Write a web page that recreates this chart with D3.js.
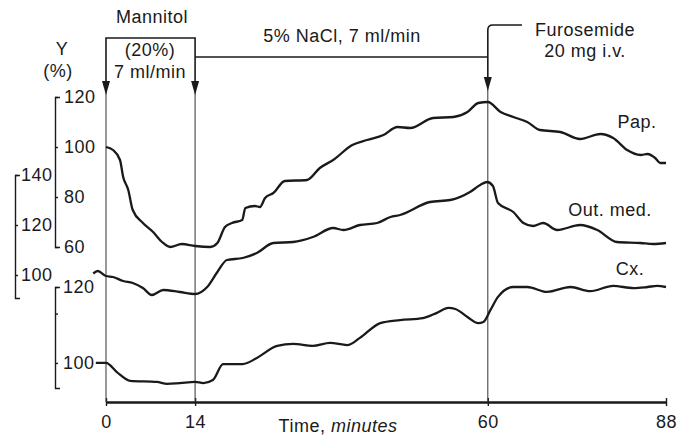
<!DOCTYPE html>
<html>
<head>
<meta charset="utf-8">
<script src="https://cdn.jsdelivr.net/npm/d3@7"></script>
<style>
body { margin: 0; background: #fff; }
svg { display: block; font-family: "Liberation Sans", Arial, sans-serif; }
text { fill: #1a1a1a; font-size: 18px; letter-spacing: 0.5px; }
</style>
</head>
<body>
<svg id="chart" width="685" height="439"></svg>
<script>
// traces: time in minutes, value in % of control
var papTime = [0, 1.1, 2.2, 2.7, 3.5, 4.2, 5.8, 7.4, 8.8, 10.1, 11.9, 14, 16.4, 17.5, 18.7, 19.8, 21.4, 21.9, 23.4, 24.2, 25, 26.3, 28.1, 31.6, 33.6, 35.7, 38.7, 41, 43.6, 45.8, 47.8, 51.4, 54.6, 56.8, 58.5, 60, 62, 64, 66.2, 68.2, 71.4, 74.5, 77.7, 79.7, 81.9, 84, 85.1, 86.3, 87.1, 88];
var papValues = [100, 98.8, 94.8, 88, 82.8, 74.8, 69.6, 66, 62, 60, 61.2, 60.4, 60, 61.6, 68, 69.6, 70.8, 75.6, 76.4, 76, 79.6, 81.6, 86.4, 86.8, 91.6, 94.8, 100.8, 102.8, 104.8, 108, 107.6, 111.6, 112, 114, 117.6, 118, 114, 112, 110, 106.8, 106, 103.2, 105.2, 103.6, 98.8, 96.8, 97.2, 95.6, 93.6, 93.6];

var medTime = [-2, -1.3, 0, 1.1, 2.7, 4.2, 5.8, 7.2, 9, 11.6, 14, 15.9, 17.5, 19, 21.5, 23.7, 26.3, 29.4, 32.5, 35.7, 37.3, 39.9, 42.6, 44.7, 46.2, 50.9, 54.1, 57.2, 58.8, 59.9, 60.8, 61.6, 64, 65.6, 67.1, 68.7, 70.9, 74.5, 77.2, 80.3, 84, 86, 88];
var medValues = [100.6, 101.6, 99.6, 99.2, 97.6, 96.8, 94.8, 92, 94, 93.2, 92.4, 95.2, 101.2, 106, 106.8, 108.8, 112.8, 113.2, 115.2, 118.8, 118, 120, 120.8, 123.2, 124, 129.2, 130, 133.2, 136, 137.2, 135.6, 128.8, 125.2, 120.8, 119.6, 120.8, 118, 120, 118, 113.2, 112.8, 112.4, 112.8];

var cxTime = [-1.6, 0, 1.7, 3.8, 8, 9.6, 11.6, 14, 15.3, 16.8, 18.4, 21.5, 23.7, 26.9, 29.4, 32.5, 35.2, 37.9, 39.9, 43.1, 46.2, 49.8, 52, 53.8, 54.9, 56.8, 58.5, 59.3, 60.4, 61.6, 64, 66.2, 69.3, 73, 76.1, 79.7, 82.9, 85.1, 86.6, 88];
var cxValues = [100, 100, 97.6, 95.3, 95, 94.5, 94.7, 95, 94.7, 95.5, 99.7, 99.7, 101.3, 104.5, 105, 104.5, 105.3, 104.7, 106.6, 110.5, 111.3, 111.8, 113.2, 114.5, 114.2, 112.1, 110.5, 110.8, 113.9, 117.4, 120, 120, 118.7, 120, 118.9, 120.3, 119.7, 120, 120.3, 120];

var xTicks = [0, 14, 60, 88];
var papTicks = [60, 80, 100, 120];
var medTicks = [100, 120, 140];
var cxTicks = [100, 113, 120]; // middle mark has no label in the original
var events = [0, 14, 60]; // mannitol on, NaCl on, furosemide

var svg = d3.select('#chart');
var ink = '#1a1a1a';

var x = d3.scaleLinear().domain([0, 88]).range([106, 666]);
// each trace has its own scale; the ranges are the bracket lengths
var yPap = d3.scaleLinear().domain([60, 120]).range([247, 97]);
var yMed = d3.scaleLinear().domain([90.8, 140]).range([298, 175]);
var yCx = d3.scaleLinear().domain([93.4, 120]).range([388, 287]);

function bracket(scale, ticks, left, pad, fmt) {
  var g = svg.append('g')
    .attr('transform', 'translate(' + left + ',0)')
    .call(d3.axisRight(scale).tickValues(ticks).tickSize(3).tickSizeOuter(5)
      .tickPadding(pad).tickFormat(fmt || d3.format('d')));
  g.selectAll('path, line').attr('stroke', ink).attr('stroke-width', 1.4);
  return g;
}

bracket(yMed, medTicks, 15, 3);
bracket(yPap, papTicks, 55, 6);
bracket(yCx, cxTicks, 55, 5, function(d) { return d === 113 ? '' : d; });

// x axis
var xg = svg.append('g')
  .attr('transform', 'translate(0,402)')
  .call(d3.axisBottom(x).tickValues(xTicks).tickSize(4).tickSizeOuter(0).tickPadding(9));
xg.select('.domain').attr('stroke', ink).attr('stroke-width', 2.6);
xg.selectAll('.tick line').attr('y1', -4).attr('stroke', ink).attr('stroke-width', 1.4);

var xl = svg.append('text').attr('x', 338).attr('y', 432).attr('text-anchor', 'middle');
xl.append('tspan').text('Time, ');
xl.append('tspan').attr('font-style', 'italic').text('minutes');

// infusion / injection markers
var tipY = [95, 95, 91];
events.forEach(function(e, i) {
  var px = x(e);
  svg.append('line')
    .attr('x1', px).attr('x2', px).attr('y1', tipY[i] - 4).attr('y2', 402)
    .attr('stroke', '#333').attr('stroke-width', 1);
  svg.append('path')
    .attr('d', 'M' + (px - 4) + ',' + (tipY[i] - 14) + 'L' + (px + 4) + ',' + (tipY[i] - 14) + 'L' + px + ',' + tipY[i] + 'Z')
    .attr('fill', ink);
});

svg.append('path')
  .attr('d', 'M' + x(0) + ',' + (tipY[0] - 12) + 'V38H' + x(14) + 'V' + (tipY[1] - 12))
  .attr('fill', 'none').attr('stroke', ink).attr('stroke-width', 1.6);
svg.append('path')
  .attr('d', 'M' + x(14) + ',57H' + x(60))
  .attr('fill', 'none').attr('stroke', ink).attr('stroke-width', 1.6);
svg.append('path')
  .attr('d', 'M' + x(60) + ',' + (tipY[2] - 12) + 'V30Q' + x(60) + ',25 ' + (x(60) + 5) + ',25H522')
  .attr('fill', 'none').attr('stroke', ink).attr('stroke-width', 1.6);

// traces
var series = [
  { t: papTime, v: papValues, y: yPap },
  { t: medTime, v: medValues, y: yMed },
  { t: cxTime, v: cxValues, y: yCx }
];
series.forEach(function(s) {
  var pts = s.t.map(function(t, i) { return [t, s.v[i]]; });
  var line = d3.line()
    .x(function(d) { return x(d[0]); })
    .y(function(d) { return s.y(d[1]); })
    .curve(d3.curveMonotoneX);
  svg.append('path').attr('d', line(pts))
    .attr('fill', 'none').attr('stroke', ink).attr('stroke-width', 2.3)
    .attr('stroke-linejoin', 'round');
});

// texts
function label(txt, px, py, anchor) {
  svg.append('text').attr('x', px).attr('y', py)
    .attr('text-anchor', anchor || 'middle').text(txt);
}
label('Mannitol', 152, 23);
label('(20%)', 150, 56);
label('7 ml/min', 150, 78);
label('5% NaCl, 7 ml/min', 342, 42);
label('Furosemide', 585, 36);
label('20 mg i.v.', 585, 57);
label('Y', 62, 55);
label('(%)', 58, 77);
label('Pap.', 637, 128);
label('Out. med.', 610, 216);
label('Cx.', 630, 275);
</script>
</body>
</html>
